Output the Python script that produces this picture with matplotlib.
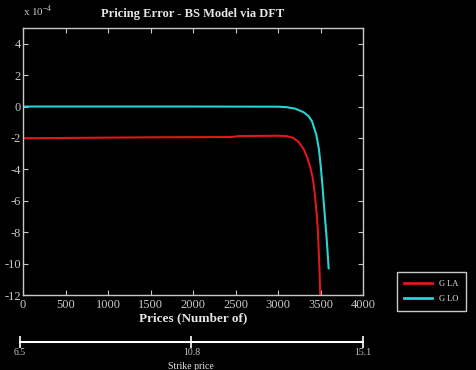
import matplotlib
matplotlib.use("Agg")
import matplotlib.pyplot as plt

# pricing error (x 1e-4) against number of prices
prices_la = [0, 500, 1000, 1500, 2000, 2450, 2550, 3000, 3100, 3180, 3240, 3300,
             3340, 3380, 3410, 3435, 3455, 3470, 3486, 3496]
err_la = [-2.02, -2.0, -1.98, -1.96, -1.95, -1.94, -1.88, -1.86, -1.88, -2.0, -2.25,
          -2.7, -3.2, -3.9, -4.6, -5.7, -6.9, -8.1, -10.2, -12.0]

prices_lo = [0, 1000, 2000, 3000, 3100, 3200, 3300, 3360, 3400, 3450, 3480, 3500,
             3520, 3540, 3570, 3595]
err_lo = [0.0, 0.0, 0.0, -0.01, -0.04, -0.13, -0.36, -0.62, -0.95, -1.8, -2.7,
          -3.7, -4.9, -6.3, -8.3, -10.3]

x_ticks = [0, 500, 1000, 1500, 2000, 2500, 3000, 3500, 4000]
y_ticks = [-12, -10, -8, -6, -4, -2, 0, 2, 4]
strike_ticks = [6.5, 10.8, 15.1]

GREY = "#c8c8c8"
RED = "#e01818"
CYAN = "#26d4d4"

plt.rcParams["font.family"] = ["Liberation Serif", "DejaVu Serif"]
plt.rcParams["axes.unicode_minus"] = False

fig = plt.figure(figsize=(4.77, 3.70), dpi=100, facecolor="black")

ax = fig.add_axes([0.0482, 0.2027, 0.713, 0.7216], facecolor="black")
ax.plot(prices_la, err_la, color=RED, lw=1.5, label="G LA")
ax.plot(prices_lo, err_lo, color=CYAN, lw=1.5, label="G LO")
ax.set_xlim(0, 4000)
ax.set_ylim(-12, 5)
ax.set_xticks(x_ticks)
ax.set_yticks(y_ticks)
for s in ax.spines.values():
    s.set_color(GREY)
    s.set_linewidth(1.0)
ax.tick_params(direction="in", length=3.5, width=0.8, colors=GREY, labelsize=9,
               top=True, right=True, pad=1.5)
ax.tick_params(axis="x", pad=3)
ax.set_title("Pricing Error - BS Model via DFT", color="#e6e6e6", fontsize=9,
             fontweight="bold", pad=8)
ax.set_xlabel("Prices (Number of)", color="#e6e6e6", fontsize=9.5,
              fontweight="bold", labelpad=1)
fig.text(0.048, 0.948, r"x 10$^{\mathregular{-4}}$", color=GREY, fontsize=8,
         va="bottom", ha="left")

leg = ax.legend(loc="upper left", bbox_to_anchor=(397 / 477, 1 - 272 / 370),
                bbox_transform=fig.transFigure, facecolor="black", edgecolor=GREY,
                fancybox=False, fontsize=6, handlelength=3.3, borderpad=0.9,
                labelspacing=0.9, framealpha=1, borderaxespad=0)
for t in leg.get_texts():
    t.set_color("#e6e6e6")
for h in leg.get_lines():
    h.set_linewidth(2)

# strike price scale
ax2 = fig.add_axes([0.0419, 0.0757, 0.719, 0.001], facecolor="none")
ax2.set_xlim(6.5, 15.1)
ax2.set_xticks(strike_ticks)
ax2.set_xticklabels(["6.5", "10.8", "15.1"])
ax2.set_yticks([])
for k in ["top", "left", "right"]:
    ax2.spines[k].set_visible(False)
ax2.spines["bottom"].set_color("white")
ax2.spines["bottom"].set_linewidth(1.5)
ax2.tick_params(axis="x", direction="inout", length=9, width=1.2, colors="white",
                labelcolor=GREY, labelsize=7, pad=0)
fig.text(191 / 477, 1 - 366.5 / 370, "Strike price", color="#e6e6e6", fontsize=7,
         ha="center", va="center")

fig.savefig("out.png", dpi=100, facecolor="black")
